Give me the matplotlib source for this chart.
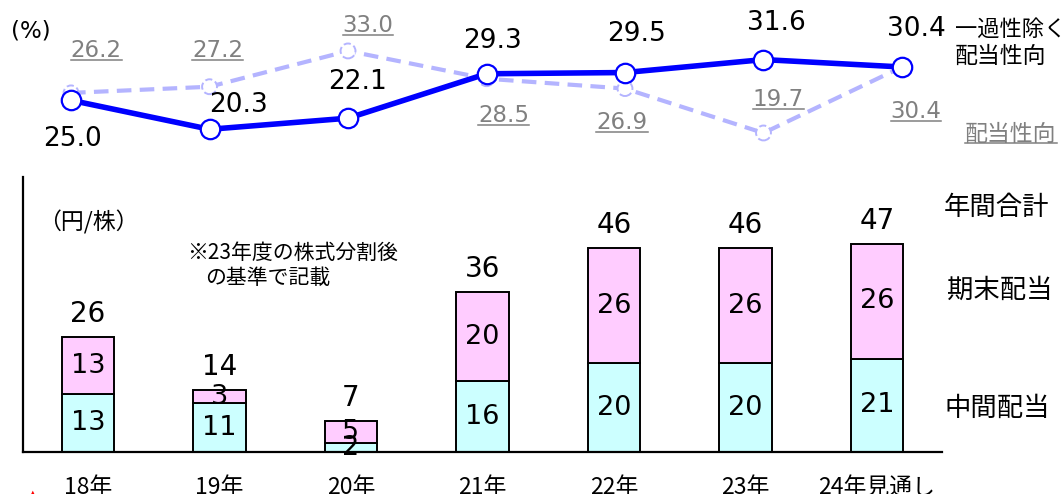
import matplotlib
matplotlib.use("Agg")
import matplotlib.pyplot as plt
from matplotlib.lines import Line2D

# ---- data ----
years = ["18年", "19年", "20年", "21年", "22年", "23年", "24年見通し"]
payout_excl = [25.0, 20.3, 22.1, 29.3, 29.5, 31.6, 30.4]   # 一過性除く配当性向
payout = [26.2, 27.2, 33.0, 28.5, 26.9, 19.7, 30.4]        # 配当性向
interim = [13, 11, 2, 16, 20, 20, 21]                      # 中間配当
year_end = [13, 3, 5, 20, 26, 26, 26]                      # 期末配当
totals = [26, 14, 7, 36, 46, 46, 47]                       # 年間合計

# ---- styling ----
W, H = 1064, 494
JP = ["Noto Sans CJK JP", "DejaVu Sans"]
plt.rcParams["font.family"] = ["DejaVu Sans", "Noto Sans CJK JP"]

BLUE = "#0000FF"
LAVENDER = "#B4B4FF"
GRAY = "#808080"
CYAN = "#CCFFFF"
PINK = "#FFCCFF"

# label offsets in pixels (dx, dy) from each point
solid_offsets = [(1, -39), (29, 24), (9, 36), (6, 33), (12, 39), (13, 37), (14, 38)]
dashed_offsets = [(25, 42), (8, 36), (20, 25), (17, -37), (-3, -34), (15, 33), (14, -45)]

fig = plt.figure(figsize=(W / 100, H / 100), dpi=100)


def fx(px):
    return px / W


def fy(py):
    return 1 - py / H


# ---- payout ratio lines (top) ----
axl = fig.add_axes([0, fy(170), 1, 170 / H])
axl.set_xlim(-0.513, 7.170)
axl.set_ylim(13.7, 41.26)
axl.axis("off")

xs = list(range(len(years)))
axl.plot(xs, payout, color=LAVENDER, lw=3.0, dashes=(3.5, 2.0), zorder=2,
         clip_on=False)
axl.scatter(xs, payout, s=115, facecolor="white", edgecolor=LAVENDER,
            linewidths=1.4, linestyle="--", zorder=3, clip_on=False)
axl.plot(xs, payout_excl, color=BLUE, lw=4.0, marker="o", markersize=14,
         markerfacecolor="white", markeredgecolor=BLUE, markeredgewidth=1.6,
         zorder=4, clip_on=False)

for x, v, (dx, dy) in zip(xs, payout_excl, solid_offsets):
    axl.annotate(f"{v:.1f}", (x, v), xytext=(dx, dy), textcoords="offset pixels",
                 ha="center", va="center", fontsize=19, color="black", zorder=5)

gray_texts = []
for x, v, (dx, dy) in zip(xs, payout, dashed_offsets):
    t = axl.annotate(f"{v:.1f}", (x, v), xytext=(dx, dy), textcoords="offset pixels",
                     ha="center", va="center", fontsize=16.5, color=GRAY, zorder=5)
    gray_texts.append(t)

fig.text(fx(11), fy(31), "(%)", fontsize=16.5, va="center", ha="left")
fig.text(fx(955), fy(29), "一過性除く", fontsize=16, va="center", ha="left", family=JP)
fig.text(fx(955), fy(56), "配当性向", fontsize=16.5, va="center", ha="left", family=JP)
gray_texts.append(fig.text(fx(965), fy(134), "配当性向", fontsize=16.5, va="center",
                           ha="left", color=GRAY, family=JP))

# ---- dividend bars (bottom) ----
axb = fig.add_axes([fx(23), fy(452), fx(942 - 23), (452 - 177) / H])
axb.set_xlim(-0.494, 6.494)
axb.set_ylim(0, 62)
for side in ("top", "right"):
    axb.spines[side].set_visible(False)
for side in ("left", "bottom"):
    axb.spines[side].set_linewidth(1.6)
axb.set_xticks([])
axb.set_yticks([])
axb.patch.set_alpha(0)

bw = 0.40
axb.bar(xs, interim, width=bw, color=CYAN, edgecolor="black", linewidth=1.4, zorder=2)
axb.bar(xs, year_end, width=bw, bottom=interim, color=PINK, edgecolor="black",
        linewidth=1.4, zorder=2)

for x, a, b, t in zip(xs, interim, year_end, totals):
    axb.text(x, a / 2, f"{a}", ha="center", va="center", fontsize=19.5, zorder=3)
    axb.text(x, a + b / 2, f"{b}", ha="center", va="center", fontsize=19.5, zorder=3)
    axb.annotate(f"{t}", (x, a + b), xytext=(0, 23), textcoords="offset pixels",
                 ha="center", va="center", fontsize=20, annotation_clip=False)

for x, lab in zip(xs, years):
    axb.annotate(lab, (x, 0), xytext=(0, -35), textcoords="offset pixels",
                 ha="center", va="center", fontsize=16.5, family=JP,
                 annotation_clip=False)

fig.text(fx(38), fy(222), "（円/株）", fontsize=16.5, va="center", ha="left", family=JP)
fig.text(fx(187), fy(253), "※23年度の株式分割後", fontsize=15, va="center",
         ha="left", family=JP)
fig.text(fx(205), fy(278), "の基準で記載", fontsize=15, va="center", ha="left",
         family=JP)

fig.text(fx(944), fy(207), "年間合計", fontsize=19, va="center", ha="left", family=JP)
fig.text(fx(947), fy(290), "期末配当", fontsize=19, va="center", ha="left", family=JP)
fig.text(fx(944), fy(408), "中間配当", fontsize=19, va="center", ha="left", family=JP)

fig.text(fx(33), fy(495), "▲", fontsize=9, color="red", ha="center", va="center")

# underline the gray payout labels
fig.canvas.draw()
renderer = fig.canvas.get_renderer()
for t in gray_texts:
    bb = t.get_window_extent(renderer)
    yline = bb.y0 + 2
    fig.add_artist(Line2D([bb.x0 / W, bb.x1 / W], [yline / H, yline / H],
                          transform=fig.transFigure, color=GRAY, lw=1.1))

fig.savefig("out.png", dpi=100)
